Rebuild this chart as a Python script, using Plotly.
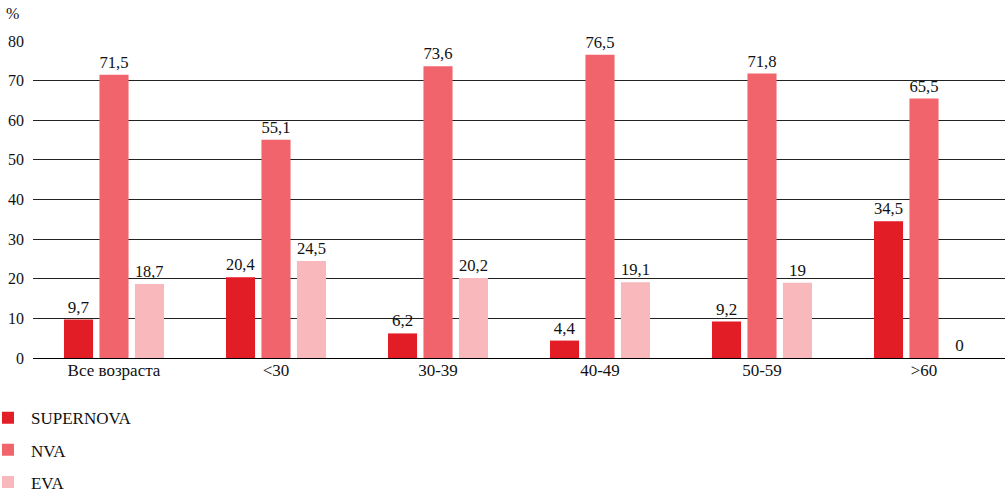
import plotly.graph_objects as go

categories = ["Все возраста", "<30", "30-39", "40-49", "50-59", ">60"]
supernova = [9.7, 20.4, 6.2, 4.4, 9.2, 34.5]
nva = [71.5, 55.1, 73.6, 76.5, 71.8, 65.5]
eva = [18.7, 24.5, 20.2, 19.1, 19, 0]
series = [("SUPERNOVA", supernova, "#e31d25"), ("NVA", nva, "#f1646b"), ("EVA", eva, "#f8b8bc")]
yticks = [0, 10, 20, 30, 40, 50, 60, 70, 80]

FONT = "Times New Roman, Liberation Serif, serif"

def fmt(v):
    return ("%g" % v).replace(".", ",")

fig = go.Figure()
for i, (name, vals, col) in enumerate(series):
    fig.add_trace(go.Bar(
        x=categories, y=vals, name=name, marker_color=col, marker_line_width=0,
        text=[fmt(v) for v in vals], textposition="outside", cliponaxis=False,
        textfont=dict(family=FONT, size=17, color="#111"),
        legendgroup="g%d" % i,
    ))

fig.update_layout(
    width=1006, height=501,
    margin=dict(l=33, r=1, t=41, b=143, autoexpand=False),
    paper_bgcolor="white", plot_bgcolor="white",
    barmode="group", bargap=0.343, bargroupgap=0.18,
    font=dict(family=FONT, size=16, color="#111"),
    showlegend=True,
    legend=dict(x=-0.0494, xanchor="left", y=-0.1332, yanchor="top",
                font=dict(family=FONT, size=17, color="#111"),
                traceorder="grouped", tracegroupgap=7, itemwidth=36),
    annotations=[dict(text="%", xref="paper", yref="paper", x=0, y=1,
                      xanchor="left", yanchor="middle", showarrow=False,
                      font=dict(family=FONT, size=16, color="#111"), xshift=-29, yshift=28)],
)
fig.update_xaxes(showgrid=False, ticks="", tickfont=dict(family=FONT, size=17), showline=False)
fig.update_yaxes(range=[0, 80], tickvals=yticks, showgrid=True, gridcolor="#222", gridwidth=1,
                 zeroline=True, zerolinecolor="#000", zerolinewidth=1, ticks="",
                 tickfont=dict(family=FONT, size=16), ticklabelstandoff=8)

fig.write_html("out.html", config={"displayModeBar": False},
               post_script="document.body.style.margin='0';")
